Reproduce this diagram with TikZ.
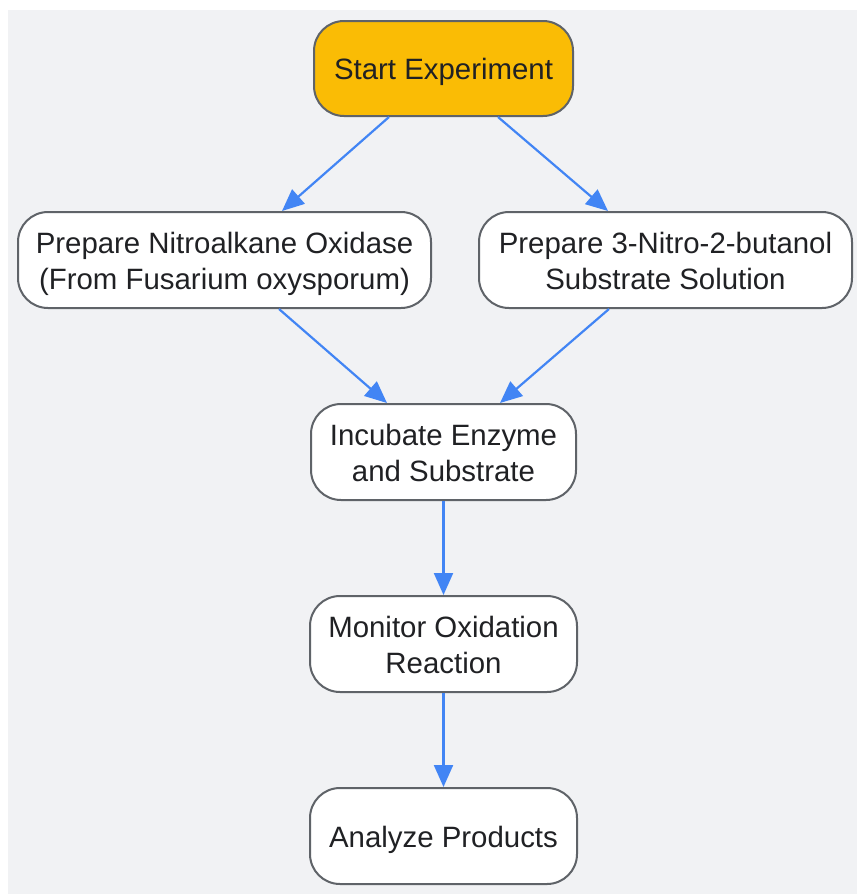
\documentclass[tikz,border=0pt]{standalone}
\usepackage{fontspec}
\setmainfont{Liberation Sans}
\usetikzlibrary{arrows.meta,calc}
\definecolor{bgc}{HTML}{F1F2F4}
\definecolor{edgec}{HTML}{5F6368}
\definecolor{txtc}{HTML}{202124}
\definecolor{startc}{HTML}{FABC05}
\definecolor{arrc}{HTML}{4285F4}
\newcommand{\mystrut}{\rule[-7.8pt]{0pt}{36pt}}
\newcommand{\topstrut}{\rule[-7.8pt]{0pt}{38pt}}
\tikzset{
  box/.style={draw=edgec, line width=2pt, fill=white, rounded corners=30pt,
    text=txtc, align=center, inner sep=0pt,
    font=\fontsize{29.4}{36}\selectfont},
  flow/.style={draw=arrc, line width=2.2pt, -{Triangle[length=22pt,width=19pt]}}
}
\begin{document}
\begin{tikzpicture}[x=1pt,y=-1pt]
\useasboundingbox (0,0) rectangle (857,894);
\fill[white] (0,0) rectangle (857,894);
\fill[bgc] (8,10) rectangle (857,894);
\node[box, fill=startc, minimum width=259pt, minimum height=95pt] (start) at (443.5,68.5) {\topstrut Start Experiment};
\node[box, minimum width=413pt, minimum height=96pt] (enz) at (224.5,260) {\topstrut Prepare Nitroalkane Oxidase\\\mystrut(From Fusarium oxysporum)};
\node[box, minimum width=373pt, minimum height=96pt] (sub) at (665.5,260) {\topstrut Prepare 3-Nitro-2-butanol\\\mystrut Substrate Solution};
\node[box, minimum width=265pt, minimum height=96pt] (inc) at (443.5,452) {\topstrut Incubate Enzyme\\\mystrut and Substrate};
\node[box, minimum width=267pt, minimum height=96pt] (mon) at (443.5,644) {\topstrut Monitor Oxidation\\\mystrut Reaction};
\node[box, minimum width=267pt, minimum height=96pt] (ana) at (443.5,836) {\topstrut Analyze Products};
\draw[flow] ($(start.south)+(-54.5,0)$) -- ($(enz.north)+(57.5,0)$);
\draw[flow] ($(start.south)+(54.5,0)$) -- ($(sub.north)+(-57.5,0)$);
\draw[flow] ($(enz.south)+(54.5,0)$) -- ($(inc.north)+(-56.5,0)$);
\draw[flow] ($(sub.south)+(-56.5,0)$) -- ($(inc.north)+(56.5,0)$);
\draw[flow] (inc) -- (mon);
\draw[flow] (mon) -- (ana);
\end{tikzpicture}
\end{document}
